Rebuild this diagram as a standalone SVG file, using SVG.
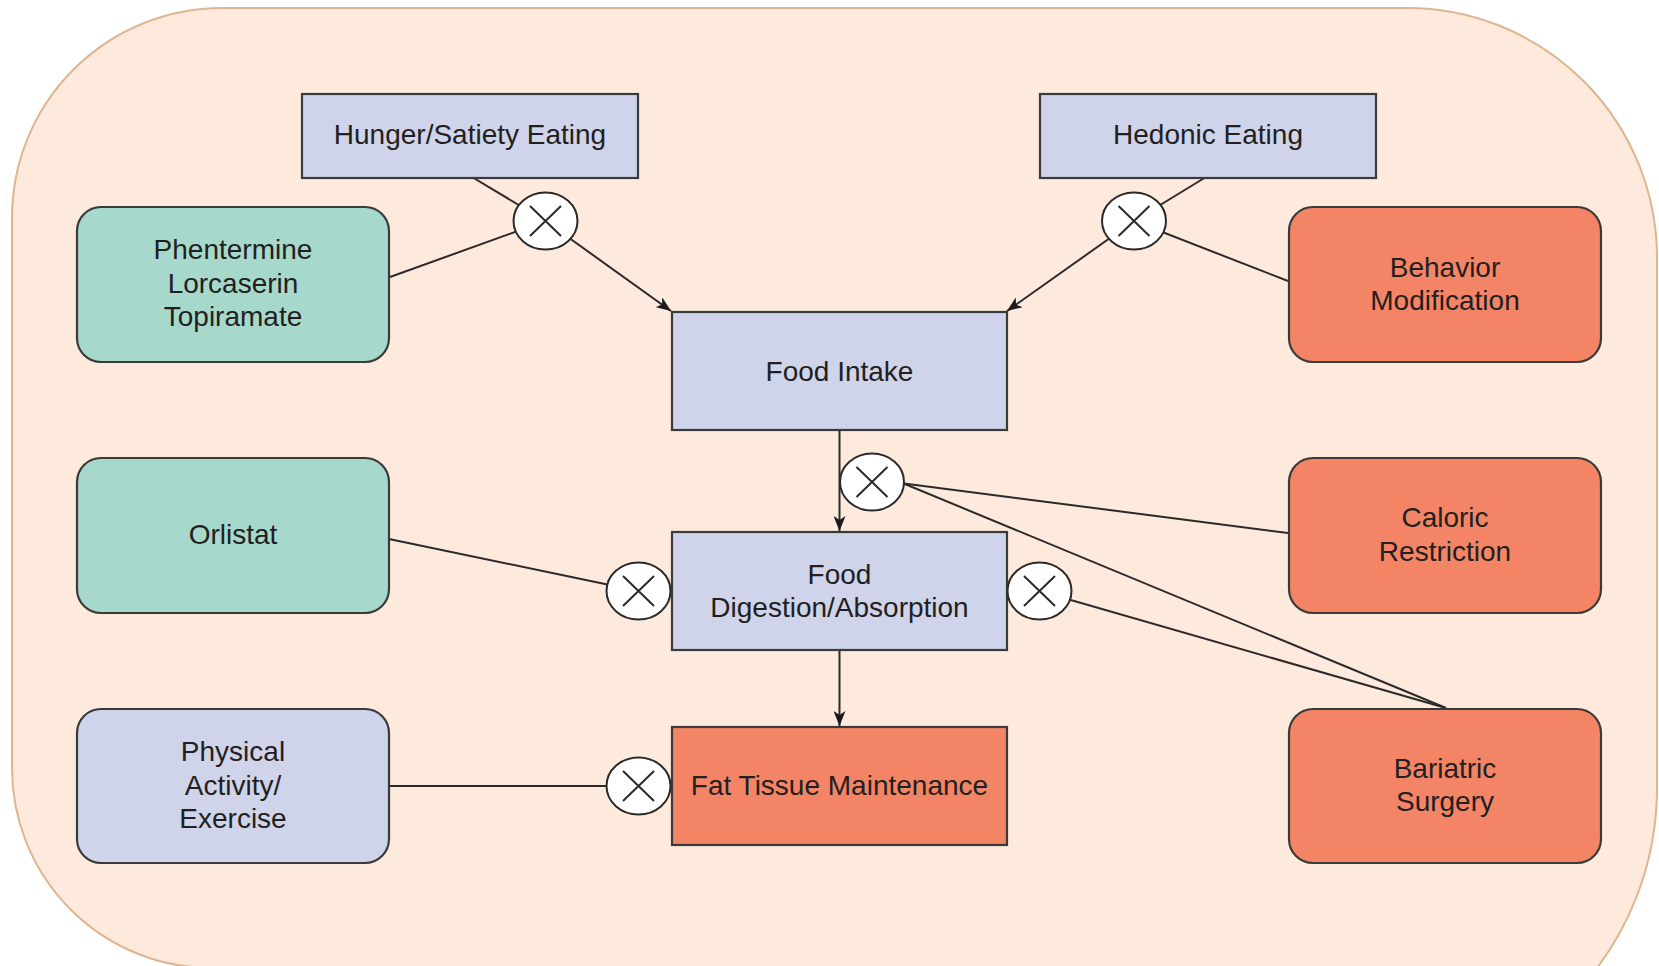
<svg xmlns="http://www.w3.org/2000/svg" width="1659" height="966" viewBox="0 0 1659 966">
<defs>
<style>
.bg{fill:#fdeadd;stroke:#dfb590;stroke-width:2}
.lav{fill:#cfd4ea;stroke:#3a3a3a;stroke-width:2.2}
.teal{fill:#a6d9cb;stroke:#3a3a3a;stroke-width:2.2}
.sal{fill:#f38566;stroke:#3a3a3a;stroke-width:2.2}
.op{fill:#ffffff;stroke:#2a2a2a;stroke-width:2}
.x{stroke:#2a2a2a;stroke-width:2;fill:none}
.ln{stroke:#2a2a2a;stroke-width:2;fill:none}
.arr{marker-end:url(#ah)}
text{font-family:"Liberation Sans",Arial,sans-serif;font-size:28px;fill:#231f20;text-anchor:middle}
</style>
<marker id="ah" markerUnits="userSpaceOnUse" markerWidth="16" markerHeight="12" refX="15" refY="6" orient="auto">
<path d="M0,0 L15,6 L0,12 L4,6 Z" fill="#1a1a1a"/>
</marker>
</defs>
<path class="bg" d="M12,218 A210,210 0 0 1 222,8 L1407,8 A250,250 0 0 1 1657,258 L1657,788 A300,300 0 0 1 1357,1088 L212,968 A200,200 0 0 1 12,768 Z"/>

<g id="connectors">
<line class="ln" x1="472" y1="177" x2="545.5" y2="221"/>
<line class="ln" x1="390" y1="277" x2="545.5" y2="221"/>
<line class="ln arr" x1="545.5" y1="221" x2="671" y2="311"/>
<line class="ln" x1="1206" y1="177" x2="1134" y2="221"/>
<line class="ln" x1="1288" y1="281" x2="1134" y2="221"/>
<line class="ln arr" x1="1134" y1="221" x2="1007" y2="311"/>
<line class="ln arr" x1="839.5" y1="430" x2="839.5" y2="531"/>
<line class="ln" x1="900" y1="483" x2="1288" y2="533"/>
<line class="ln" x1="900" y1="482" x2="1446" y2="708"/>
<line class="ln" x1="1039.5" y1="591" x2="1446" y2="708"/>
<line class="ln" x1="389" y1="539" x2="638.5" y2="591"/>
<line class="ln arr" x1="839.5" y1="650" x2="839.5" y2="726"/>
<line class="ln" x1="389" y1="786" x2="638.5" y2="786"/>
</g>

<g id="hunger"><rect class="lav" x="302" y="94" width="336" height="84"/><text x="470" y="144">Hunger/Satiety Eating</text></g>
<g id="hedonic"><rect class="lav" x="1040" y="94" width="336" height="84"/><text x="1208" y="144">Hedonic Eating</text></g>
<g id="drugs"><rect class="teal" x="77" y="207" width="312" height="155" rx="24"/><text x="233" y="259">Phentermine</text><text x="233" y="293">Lorcaserin</text><text x="233" y="326">Topiramate</text></g>
<g id="behavior"><rect class="sal" x="1289" y="207" width="312" height="155" rx="24"/><text x="1445" y="277">Behavior</text><text x="1445" y="310">Modification</text></g>
<g id="food-intake"><rect class="lav" x="672" y="312" width="335" height="118"/><text x="839.5" y="381">Food Intake</text></g>
<g id="orlistat"><rect class="teal" x="77" y="458" width="312" height="155" rx="24"/><text x="233" y="544">Orlistat</text></g>
<g id="caloric"><rect class="sal" x="1289" y="458" width="312" height="155" rx="24"/><text x="1445" y="527">Caloric</text><text x="1445" y="561">Restriction</text></g>
<g id="digestion"><rect class="lav" x="672" y="532" width="335" height="118"/><text x="839.5" y="584">Food</text><text x="839.5" y="617">Digestion/Absorption</text></g>
<g id="physical"><rect class="lav" x="77" y="709" width="312" height="154" rx="24"/><text x="233" y="761">Physical</text><text x="233" y="795">Activity/</text><text x="233" y="828">Exercise</text></g>
<g id="fat"><rect class="sal" x="672" y="727" width="335" height="118"/><text x="839.5" y="795">Fat Tissue Maintenance</text></g>
<g id="bariatric"><rect class="sal" x="1289" y="709" width="312" height="154" rx="24"/><text x="1445" y="778">Bariatric</text><text x="1445" y="811">Surgery</text></g>

<g id="op1"><ellipse class="op" cx="545.5" cy="221" rx="32" ry="28.5"/><path class="x" d="M530,206 L561,236 M561,206 L530,236"/></g>
<g id="op2"><ellipse class="op" cx="1134" cy="221" rx="32" ry="28.5"/><path class="x" d="M1118.5,206 L1149.5,236 M1149.5,206 L1118.5,236"/></g>
<g id="op3"><ellipse class="op" cx="872" cy="482" rx="32" ry="28.5"/><path class="x" d="M856.5,467 L887.5,497 M887.5,467 L856.5,497"/></g>
<g id="op4"><ellipse class="op" cx="638.5" cy="591" rx="32" ry="28.5"/><path class="x" d="M623,576 L654,606 M654,576 L623,606"/></g>
<g id="op5"><ellipse class="op" cx="1039.5" cy="591" rx="32" ry="28.5"/><path class="x" d="M1024,576 L1055,606 M1055,576 L1024,606"/></g>
<g id="op6"><ellipse class="op" cx="638.5" cy="786" rx="32" ry="28.5"/><path class="x" d="M623,771 L654,801 M654,771 L623,801"/></g>
</svg>
